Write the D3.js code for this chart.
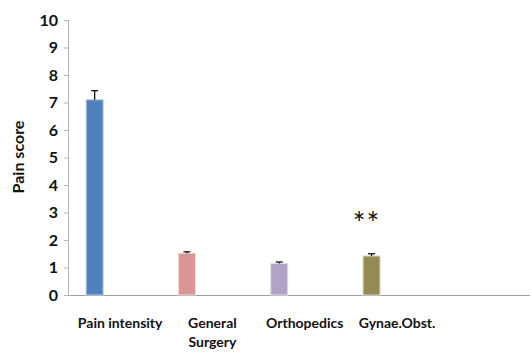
<!DOCTYPE html>
<html>
<head>
<meta charset="utf-8">
<script src="https://cdn.jsdelivr.net/npm/d3@7"></script>
<style>
  html, body { margin: 0; padding: 0; background: #fff; }
  svg { display: block; }
  text { font-family: Lato, "Open Sans", sans-serif; fill: #111; }
</style>
</head>
<body>
<script>
// Pain score by group, mean with upper error bar
const categories = ["Pain intensity", "General Surgery", "Orthopedics", "Gynae.Obst.", ""];
const means = [7.1, 1.52, 1.15, 1.42];
const errors = [0.33, 0.05, 0.05, 0.08];
const barColors = ["#4F81BD", "#D99694", "#B3A2C7", "#948A54"];
const barEdges = ["#B9CDE5", "#F2DCDB", "#E6E0EC", "#DDD9C3"];
const yTicks = [0, 1, 2, 3, 4, 5, 6, 7, 8, 9, 10];
const significance = [null, null, null, "**"];

const W = 532, H = 353;
const plot = { left: 69, right: 530, top: 20, bottom: 295 };

const svg = d3.select("body").append("svg").attr("width", W).attr("height", H);

const y = d3.scaleLinear().domain([0, 10]).range([plot.bottom, plot.top]);
const x = d3.scaleBand().domain(categories).range([plot.left + 5, plot.left + 5 + 92.3 * 5]);
// each category holds a cluster of four slots; the group's bar sits in the first one
const slot = d3.scaleBand().domain(["s0", "s1", "s2", "s3"]).range([-34, 34]);

// y axis
const yAxis = d3.axisLeft(y).tickValues(yTicks).tickSize(5).tickPadding(6).tickFormat(d3.format("d"));
const gy = svg.append("g").attr("transform", `translate(${plot.left},0)`).call(yAxis);
gy.select(".domain").attr("stroke", "#B5B5B5").attr("d", `M-0.5,${plot.top}V${plot.bottom}`);
gy.selectAll(".tick line").attr("stroke", "#B5B5B5");
gy.selectAll(".tick text").style("font-size", "16px").style("font-weight", "700").attr("fill", "#111");

// x axis
const xAxis = d3.axisBottom(x).tickSize(0).tickPadding(0);
const gx = svg.append("g").attr("transform", `translate(0,${plot.bottom})`).call(xAxis);
gx.select(".domain").attr("stroke", "#A0A0A0").attr("d", `M${plot.left},0.5H${plot.right}`);
gx.selectAll(".tick text").remove();
gx.selectAll(".tick").each(function(d) {
  const words = d === "General Surgery" ? ["General", "Surgery"] : [d];
  const t = d3.select(this).append("text")
    .attr("text-anchor", "middle")
    .style("font-size", "14px")
    .style("font-weight", "700")
    .attr("fill", "#111");
  words.forEach((w, i) => t.append("tspan").attr("x", 0).attr("y", 33 + i * 19).text(w));
});

// bars
const data = means.map((m, i) => ({ cat: categories[i], mean: m, err: errors[i], color: barColors[i], edge: barEdges[i], sig: significance[i] }));
const bx = d => x(d.cat) + x.bandwidth() / 2 + slot("s0");
const bw = slot.bandwidth();

svg.append("g").selectAll("rect").data(data).join("rect")
  .attr("x", bx)
  .attr("y", d => y(d.mean))
  .attr("width", bw)
  .attr("height", d => y(0) - y(d.mean))
  .attr("fill", d => d.color)
  .attr("stroke", d => d.edge)
  .attr("stroke-width", 1);

// upper error bars
const eb = svg.append("g").attr("stroke", "#111").attr("stroke-width", 1.3);
data.forEach(d => {
  const cx = bx(d) + bw / 2;
  eb.append("line").attr("x1", cx).attr("x2", cx).attr("y1", y(d.mean)).attr("y2", y(d.mean + d.err));
  eb.append("line").attr("x1", cx - 3.5).attr("x2", cx + 3.5).attr("y1", y(d.mean + d.err)).attr("y2", y(d.mean + d.err));
});

// significance marks
svg.append("g").selectAll("text").data(data.filter(d => d.sig)).join("text")
  .attr("x", d => bx(d) + bw / 2 - 5)
  .attr("y", d => y(d.mean + d.err) - 20)
  .attr("text-anchor", "middle")
  .style("font-size", "30px")
  .style("letter-spacing", "1px")
  .attr("fill", "#1a1a2a")
  .text(d => d.sig);

// y axis title
svg.append("text")
  .attr("transform", `translate(24,157) rotate(-90)`)
  .attr("text-anchor", "middle")
  .style("font-size", "16px")
  .style("font-weight", "700")
  .text("Pain score");
</script>
</body>
</html>
